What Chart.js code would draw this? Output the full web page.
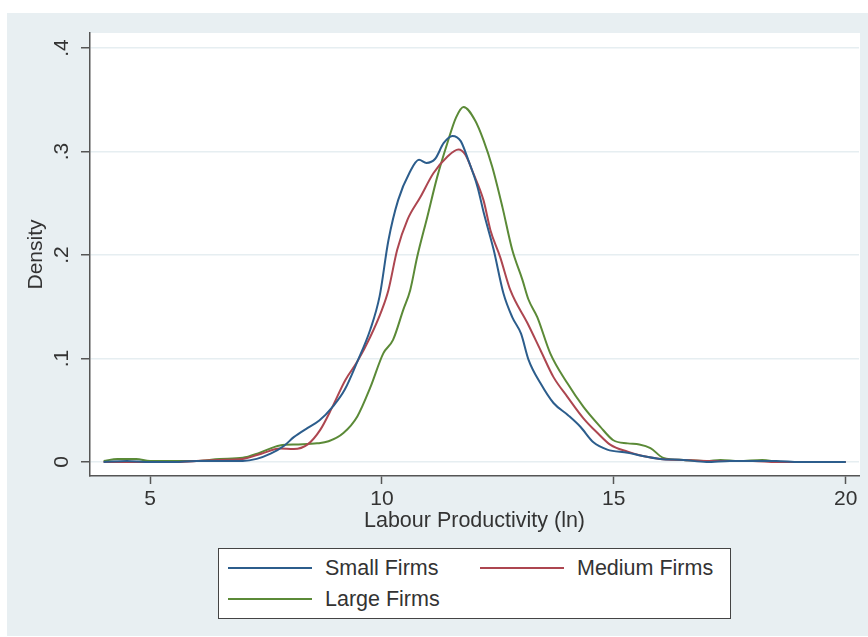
<!DOCTYPE html>
<html>
<head>
<meta charset="utf-8">
<script src="https://cdn.jsdelivr.net/npm/chart.js@4/dist/chart.umd.min.js"></script>
<style>
    html, body { margin: 0; padding: 0; background: #fff; }
    body { width: 868px; height: 637px; position: relative; overflow: hidden; font-family: 'Liberation Sans', Arial, sans-serif; }
    .panel { position: absolute; left: 7px; top: 13px; width: 861px; height: 623px; background: #e8eff2; }
    #chart { position: absolute; left: 0; top: 0; }
    .legend { position: absolute; left: 218px; top: 548px; width: 511px; height: 69px; background: #fff; border: 1.5px solid #444; }
    .legend-item { position: absolute; display: flex; align-items: center; font-size: 21.5px; color: #333; }
    .legend-line { width: 84px; height: 2px; margin-right: 13px; }
</style>
</head>
<body>
<div class="panel"></div>
<canvas id="chart" width="868" height="637"></canvas>
<div class="legend" id="legend"></div>

<script>
// Kernel density curves (x = ln labour productivity, y = density)
const xSmall = [4.0, 4.5, 5.0, 5.5, 6.0, 6.5, 7.0, 7.3, 7.6, 7.9, 8.1, 8.4, 8.65, 8.95, 9.2, 9.47, 9.75, 9.95, 10.14, 10.35, 10.6, 10.8, 10.96, 11.15, 11.33, 11.52, 11.7, 11.86, 12.06, 12.2, 12.41, 12.62, 12.81, 13.0, 13.16, 13.42, 13.7, 14.02, 14.28, 14.56, 14.86, 15.3, 15.6, 16.0, 16.5, 17.0, 17.5, 18.0, 18.5, 19.0, 20.0];
const ySmall = [0.000, 0.001, 0.000, 0.000, 0.001, 0.001, 0.001, 0.003, 0.008, 0.016, 0.024, 0.033, 0.040, 0.054, 0.070, 0.097, 0.128, 0.160, 0.214, 0.253, 0.280, 0.292, 0.289, 0.293, 0.308, 0.315, 0.310, 0.292, 0.266, 0.240, 0.205, 0.163, 0.140, 0.124, 0.099, 0.076, 0.057, 0.045, 0.034, 0.019, 0.012, 0.009, 0.006, 0.003, 0.002, 0.000, 0.001, 0.001, 0.001, 0.000, 0.000];

const xMedium = [4.0, 4.5, 5.0, 5.5, 6.0, 6.5, 7.0, 7.4, 7.8, 8.1, 8.4, 8.67, 8.93, 9.21, 9.47, 9.75, 10.0, 10.14, 10.33, 10.55, 10.83, 11.11, 11.41, 11.65, 11.8, 11.97, 12.19, 12.34, 12.55, 12.77, 13.14, 13.42, 13.7, 14.0, 14.35, 14.65, 14.93, 15.3, 15.6, 16.0, 16.5, 17.0, 17.5, 18.0, 18.5, 19.0, 20.0];
const yMedium = [0.000, 0.000, 0.000, 0.000, 0.001, 0.002, 0.003, 0.008, 0.013, 0.0125, 0.017, 0.031, 0.053, 0.079, 0.097, 0.121, 0.147, 0.166, 0.205, 0.234, 0.256, 0.279, 0.295, 0.302, 0.297, 0.279, 0.253, 0.224, 0.198, 0.166, 0.134, 0.108, 0.082, 0.063, 0.042, 0.028, 0.0165, 0.010, 0.006, 0.003, 0.002, 0.001, 0.001, 0.001, 0.000, 0.000, 0.000];

const xLarge = [4.0, 4.3, 4.7, 5.0, 5.5, 6.0, 6.5, 7.0, 7.37, 7.8, 8.2, 8.6, 8.85, 9.17, 9.47, 9.75, 10.03, 10.24, 10.46, 10.61, 10.76, 10.98, 11.19, 11.41, 11.6, 11.76, 12.01, 12.19, 12.38, 12.6, 12.81, 13.03, 13.16, 13.35, 13.63, 14.0, 14.35, 14.71, 14.99, 15.3, 15.55, 15.79, 16.07, 16.5, 17.0, 17.3, 17.7, 18.2, 18.6, 19.0, 20.0];
const yLarge = [0.001, 0.003, 0.003, 0.001, 0.001, 0.001, 0.003, 0.004, 0.009, 0.016, 0.017, 0.018, 0.020, 0.028, 0.044, 0.072, 0.105, 0.118, 0.147, 0.166, 0.198, 0.237, 0.275, 0.308, 0.333, 0.343, 0.330, 0.311, 0.285, 0.246, 0.205, 0.176, 0.157, 0.140, 0.105, 0.076, 0.053, 0.034, 0.021, 0.018, 0.017, 0.0135, 0.004, 0.002, 0.001, 0.002, 0.001, 0.002, 0.000, 0.000, 0.000];

const seriesNames = ['Small Firms', 'Medium Firms', 'Large Firms'];
const seriesColors = ['#2c5d8c', '#ad4650', '#5b8a37'];

const xTickValues = [5, 10, 15, 20];
const yTickValues = [0, 0.1, 0.2, 0.3, 0.4];
const yTickLabels = ['0', '.1', '.2', '.3', '.4'];

const xTitle = 'Labour Productivity (ln)';
const yTitle = 'Density';

const FONT = "'Liberation Sans', Arial, sans-serif";
const TEXT_COLOR = '#333';
const AXIS_COLOR = '#555';

function toPoints(xs, ys) {
    return xs.map((x, i) => ({ x, y: ys[i] }));
}

const seriesData = [
    toPoints(xSmall, ySmall),
    toPoints(xMedium, yMedium),
    toPoints(xLarge, yLarge)
];

// white plot region on the grey panel
const plotBackground = {
    id: 'plotBackground',
    beforeDraw(chart) {
        const { ctx, chartArea } = chart;
        ctx.save();
        ctx.fillStyle = '#fff';
        ctx.fillRect(chartArea.left, chartArea.top, chartArea.right - chartArea.left + 1, chartArea.bottom - chartArea.top);
        ctx.restore();
    }
};

new Chart(document.getElementById('chart'), {
    type: 'line',
    data: {
        datasets: seriesData.map((pts, i) => ({
            label: seriesNames[i],
            data: pts,
            borderColor: seriesColors[i],
            borderWidth: 2,
            pointRadius: 0,
            fill: false,
            cubicInterpolationMode: 'monotone'
        }))
    },
    options: {
        responsive: false,
        animation: false,
        devicePixelRatio: 1,
        layout: { padding: { top: 33, right: 9, left: 0, bottom: 0 } },
        plugins: {
            legend: { display: false },
            tooltip: { enabled: false }
        },
        scales: {
            x: {
                type: 'linear',
                min: 3.706,
                max: 20.287,
                afterFit: (scale) => { scale.height = 161; },
                afterBuildTicks: (scale) => { scale.ticks = xTickValues.map(v => ({ value: v })); },
                grid: { drawOnChartArea: false, drawTicks: true, tickLength: 8, tickColor: AXIS_COLOR, tickWidth: 1.5 },
                border: { display: true, color: AXIS_COLOR, width: 1.5 },
                ticks: {
                    padding: 3,
                    color: TEXT_COLOR,
                    font: { family: FONT, size: 21 },
                    maxRotation: 0,
                    autoSkip: false,
                    callback: (v) => String(v)
                },
                title: {
                    display: true,
                    text: xTitle,
                    color: TEXT_COLOR,
                    font: { family: FONT, size: 21.5 },
                    padding: { top: 0, bottom: 103 }
                }
            },
            y: {
                type: 'linear',
                min: -0.01353,
                max: 0.41449,
                afterFit: (scale) => { scale.width = 90; },
                afterBuildTicks: (scale) => { scale.ticks = yTickValues.map(v => ({ value: v })); },
                grid: { color: '#e6eef1', lineWidth: 1.5, drawTicks: true, tickLength: 9, tickColor: AXIS_COLOR, tickWidth: 1.5 },
                border: { display: true, color: AXIS_COLOR, width: 1.5 },
                ticks: {
                    padding: 10,
                    crossAlign: 'center',
                    minRotation: 90,
                    maxRotation: 90,
                    color: TEXT_COLOR,
                    font: { family: FONT, size: 21 },
                    autoSkip: false,
                    callback: (v) => yTickLabels[yTickValues.indexOf(v)] ?? ''
                },
                title: {
                    display: true,
                    text: yTitle,
                    color: TEXT_COLOR,
                    font: { family: FONT, size: 21 },
                    padding: { top: 24, bottom: 0 }
                }
            }
        }
    },
    plugins: [plotBackground]
});

// Legend in two columns, like the original
const legendSlots = [
    { left: 9, top: 19 },
    { left: 261, top: 19 },
    { left: 9, top: 50 }
];
const legendEl = document.getElementById('legend');
legendEl.innerHTML = seriesNames.map((name, i) => {
    const slot = legendSlots[i];
    return `<div class="legend-item" style="left:${slot.left}px;top:${slot.top - 12}px;height:24px">` +
        `<span class="legend-line" style="background:${seriesColors[i]}"></span>${name}</div>`;
}).join('');
</script>
</body>
</html>
